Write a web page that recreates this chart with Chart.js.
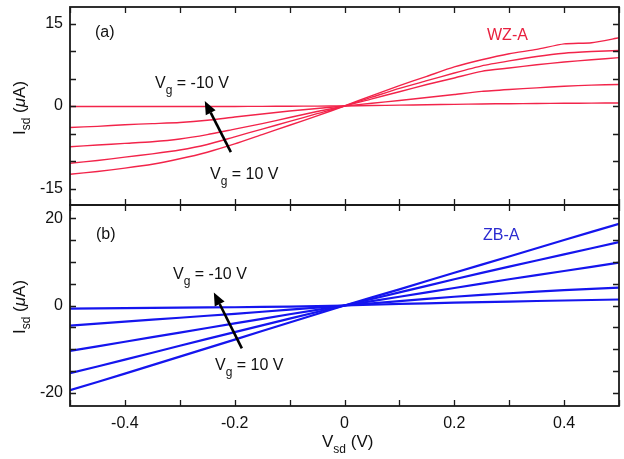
<!DOCTYPE html>
<html>
<head>
<meta charset="utf-8">
<script src="https://cdn.jsdelivr.net/npm/chart.js@4.4.0/dist/chart.umd.min.js"></script>
<style>
  html, body { margin: 0; padding: 0; background: #fff; }
  #wrap { position: relative; width: 624px; height: 459px; font-family: "Liberation Sans", Arial, sans-serif; color: #111; }
  #wrap canvas { position: absolute; left: 0; }
  .lbl { position: absolute; white-space: nowrap; font-size: 16px; line-height: 1; }
  .lbl sub { font-size: 12px; vertical-align: -6px; line-height: 0; }
  .ytitle { position: absolute; white-space: nowrap; font-size: 17px; line-height: 1; transform: translate(-50%, -50%) rotate(-90deg); }
  .ytitle sub { font-size: 12px; vertical-align: -5px; line-height: 0; }
</style>
</head>
<body>
<div id="wrap">
  <canvas id="chartA"></canvas>
  <canvas id="chartB"></canvas>

  <div class="lbl" style="left:95px;top:24px;">(a)</div>
  <div class="lbl" style="left:487px;top:27px;color:#e8203f;">WZ-A</div>
  <div class="lbl" style="left:155px;top:75px;">V<sub>g</sub> = -10 V</div>
  <div class="lbl" style="left:210px;top:166px;">V<sub>g</sub> = 10 V</div>

  <div class="lbl" style="left:96px;top:226px;">(b)</div>
  <div class="lbl" style="left:483px;top:227px;color:#2b2bd0;">ZB-A</div>
  <div class="lbl" style="left:173px;top:266px;">V<sub>g</sub> = -10 V</div>
  <div class="lbl" style="left:215px;top:357px;">V<sub>g</sub> = 10 V</div>

  <div class="ytitle" style="left:19px;top:108px;">I<sub>sd</sub> (<i>&mu;</i>A)</div>
  <div class="ytitle" style="left:19px;top:307px;">I<sub>sd</sub> (<i>&mu;</i>A)</div>
  <div class="lbl" style="left:322px;top:433px;font-size:17px;">V<sub>sd</sub> (V)</div>
</div>

<script>
// panel (a) WZ-A, source-drain bias (V)
const vsdA = [-0.5, -0.45, -0.4, -0.35, -0.3, -0.25, -0.2, -0.15, -0.1, -0.05, 0,
              0.05, 0.1, 0.15, 0.2, 0.25, 0.3, 0.35, 0.4, 0.45, 0.5];
// Isd (uA) for each gate voltage
const wzVgm10 = [-0.1, -0.1, -0.1, -0.1, -0.1, -0.1, -0.08, -0.06, -0.04, -0.02, 0,
                 0.08, 0.16, 0.23, 0.3, 0.37, 0.42, 0.46, 0.5, 0.52, 0.55];
const wzVgm5  = [-3.9, -3.7, -3.4, -3.2, -3.0, -2.6, -2.0, -1.45, -0.9, -0.45, 0,
                 0.5, 1.0, 1.55, 2.1, 2.65, 3.0, 3.3, 3.6, 3.8, 3.9];
const wzVg0   = [-7.4, -7.1, -6.8, -6.5, -6.0, -5.2, -4.2, -3.2, -2.1, -1.0, 0,
                 1.3, 2.6, 3.9, 5.1, 6.3, 6.9, 7.5, 8.0, 8.4, 8.8];
const wzVg5   = [-10.4, -9.9, -9.3, -8.7, -8.0, -7.0, -5.6, -4.2, -2.8, -1.4, 0,
                 1.6, 3.2, 4.6, 6.0, 7.3, 8.2, 9.0, 9.6, 9.9, 10.1];
const wzVg10  = [-12.4, -11.9, -11.3, -10.6, -9.6, -8.4, -6.9, -5.2, -3.5, -1.8, 0,
                 1.9, 3.7, 5.4, 7.1, 8.4, 9.5, 10.3, 11.3, 11.5, 12.4];

// panel (b) ZB-A
const vsdB = [-0.5, -0.4, -0.3, -0.2, -0.1, 0, 0.1, 0.2, 0.3, 0.4, 0.5];
const zbVgm10 = [-0.7, -0.6, -0.5, -0.4, -0.25, 0, 0.35, 0.65, 0.9, 1.15, 1.37];
const zbVgm5  = [-4.6, -3.7, -2.8, -1.9, -0.95, 0, 1.0, 2.0, 2.8, 3.5, 4.1];
const zbVg0   = [-10.4, -8.3, -6.2, -4.1, -2.0, 0, 2.0, 4.0, 6.0, 7.9, 9.8];
const zbVg5   = [-15.5, -12.4, -9.2, -6.1, -3.0, 0, 3.0, 6.0, 8.9, 11.7, 14.5];
const zbVg10  = [-19.4, -15.6, -11.7, -7.8, -3.9, 0, 3.7, 7.5, 11.2, 15.0, 18.7];

// axes
const vsdTicks = [-0.5, -0.4, -0.3, -0.2, -0.1, 0, 0.1, 0.2, 0.3, 0.4, 0.5];
const yTicksA = [-15, -10, -5, 0, 5, 10, 15];
const yTicksB = [-20, -15, -10, -5, 0, 5, 10, 15, 20];

// arrows (Vg = 10 V -> Vg = -10 V), tail then head, data units
const arrowA = [[-0.207, -8.4], [-0.2545, 0.9]];
const arrowB = [[-0.187, -9.8], [-0.238, 3.0]];

const RED = '#f2244a';
const BLUE = '#1515ee';

function toXY(xs, ys) {
  return xs.map((x, i) => ({ x: x, y: ys[i] }));
}

function makeSets(xs, list, color, width) {
  return list.map(ys => ({
    data: toXY(xs, ys),
    borderColor: color,
    borderWidth: width,
    pointRadius: 0,
    tension: 0.2,
    fill: false
  }));
}

// frame, inward ticks and the gate arrow
function framePlugin(yTicks, arrow) {
  return {
    id: 'frame',
    afterDraw(chart) {
      const { ctx, chartArea: a, scales: { x, y } } = chart;
      ctx.save();
      ctx.strokeStyle = '#1a1a1a';
      ctx.lineWidth = 1.3;
      ctx.beginPath();
      vsdTicks.forEach(v => {
        const px = Math.round(x.getPixelForValue(v)) + 0.5;
        ctx.moveTo(px, a.top); ctx.lineTo(px, a.top + 6);
        ctx.moveTo(px, a.bottom); ctx.lineTo(px, a.bottom - 6);
      });
      yTicks.forEach(v => {
        const py = Math.round(y.getPixelForValue(v)) + 0.5;
        ctx.moveTo(a.left, py); ctx.lineTo(a.left + 6, py);
        ctx.moveTo(a.right, py); ctx.lineTo(a.right - 6, py);
      });
      ctx.stroke();

      ctx.lineWidth = 1.8;
      ctx.strokeRect(a.left, a.top, a.right - a.left, a.bottom - a.top);

      // arrow
      const x0 = x.getPixelForValue(arrow[0][0]), y0 = y.getPixelForValue(arrow[0][1]);
      const x1 = x.getPixelForValue(arrow[1][0]), y1 = y.getPixelForValue(arrow[1][1]);
      const ang = Math.atan2(y1 - y0, x1 - x0);
      const hl = 13, hw = 5.5;
      const bx = x1 - hl * Math.cos(ang), by = y1 - hl * Math.sin(ang);
      ctx.strokeStyle = '#000';
      ctx.fillStyle = '#000';
      ctx.lineWidth = 2.6;
      ctx.beginPath();
      ctx.moveTo(x0, y0); ctx.lineTo(bx, by);
      ctx.stroke();
      ctx.beginPath();
      ctx.moveTo(x1, y1);
      ctx.lineTo(bx + hw * Math.sin(ang), by - hw * Math.cos(ang));
      ctx.lineTo(bx - hw * Math.sin(ang), by + hw * Math.cos(ang));
      ctx.closePath();
      ctx.fill();
      ctx.restore();
    }
  };
}

function yAxis(min, max, every) {
  return {
    type: 'linear',
    min: min, max: max,
    grid: { display: false, drawTicks: false },
    border: { display: false },
    // fixed gutter, no extra room for the end labels
    afterFit: s => { s.width = 70; s.paddingTop = 0; s.paddingBottom = 0; },
    ticks: {
      stepSize: 5,
      includeBounds: false,
      padding: 7,
      color: '#111',
      font: { family: '"Liberation Sans", Arial, sans-serif', size: 16 },
      callback: v => (v % every === 0 ? String(v) : '')
    }
  };
}

function sizeCanvas(el, top, h) {
  el.width = 624; el.height = h;
  el.style.width = '624px'; el.style.height = h + 'px';
  el.style.top = top + 'px';
}

Chart.defaults.animation = false;
Chart.defaults.responsive = false;

const cA = document.getElementById('chartA');
sizeCanvas(cA, 0, 207);
new Chart(cA, {
  type: 'line',
  data: { datasets: makeSets(vsdA, [wzVgm10, wzVgm5, wzVg0, wzVg5, wzVg10], RED, 1.4) },
  options: {
    responsive: false,
    layout: { autoPadding: false, padding: { top: 7, bottom: 2, left: 0, right: 5 } },
    plugins: { legend: { display: false }, tooltip: { enabled: false } },
    scales: {
      x: { type: 'linear', min: -0.5, max: 0.5, display: false },
      y: yAxis(-18, 18, 15)
    }
  },
  plugins: [framePlugin(yTicksA, arrowA)]
});

const cB = document.getElementById('chartB');
sizeCanvas(cB, 203, 256);
new Chart(cB, {
  type: 'line',
  data: { datasets: makeSets(vsdB, [zbVgm10, zbVgm5, zbVg0, zbVg5, zbVg10], BLUE, 2.2) },
  options: {
    responsive: false,
    layout: { autoPadding: false, padding: { top: 2, bottom: 0, left: 0, right: 5 } },
    plugins: { legend: { display: false }, tooltip: { enabled: false } },
    scales: {
      x: {
        type: 'linear', min: -0.5, max: 0.5,
        grid: { display: false, drawTicks: false },
        border: { display: false },
        afterFit: s => { s.height = 53; s.paddingLeft = 0; s.paddingRight = 0; },
        ticks: {
          stepSize: 0.1,
          padding: 8,
          maxRotation: 0,
          autoSkip: false,
          color: '#111',
          font: { family: '"Liberation Sans", Arial, sans-serif', size: 16 },
          callback: v => {
            const r = Math.round(v * 10);
            return r % 2 === 0 ? String(r / 10) : '';
          }
        }
      },
      y: yAxis(-23, 23, 20)
    }
  },
  plugins: [framePlugin(yTicksB, arrowB)]
});
</script>
</body>
</html>
